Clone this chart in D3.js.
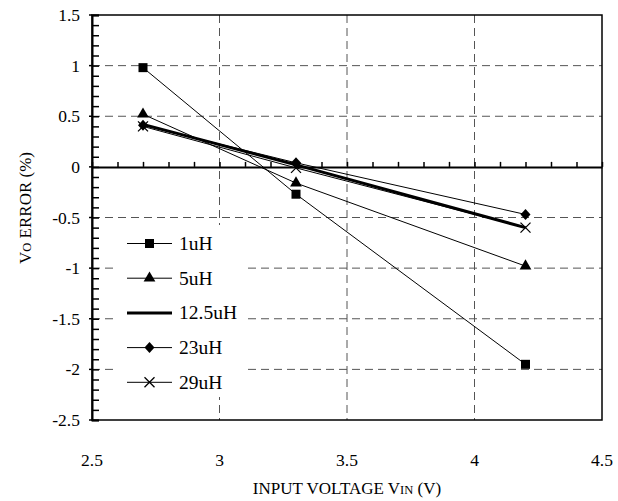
<!DOCTYPE html>
<html>
<head>
<meta charset="utf-8">
<script src="https://cdn.jsdelivr.net/npm/d3@7"></script>
<style>
  body { margin: 0; background: #fff; }
  text { font-family: "Liberation Serif", "Times New Roman", serif; fill: #000; }
</style>
</head>
<body>
<script>
// Vo error vs input voltage, one series per inductor value
var width = 618;
var height = 501;

var margin = { top: 15, left: 92, right: 16, bottom: 81 };

// data
var vin = [2.7, 3.3, 4.2];
var labels = ["1uH", "5uH", "12.5uH", "23uH", "29uH"];
var err1 = [0.98, -0.27, -1.95];
var err5 = [0.52, -0.16, -0.98];
var err12 = [0.42, 0.02, -0.60];
var err23 = [0.41, 0.04, -0.47];
var err29 = [0.40, -0.01, -0.60];
var markers = ["square", "triangle", "none", "diamond", "cross"];
var xTicks = [2.5, 3, 3.5, 4, 4.5];
var yTicks = [1.5, 1, 0.5, 0, -0.5, -1, -1.5, -2, -2.5];

var series = [err1, err5, err12, err23, err29].map(function(vals, i) {
  return { name: labels[i], marker: markers[i], pts: vals.map(function(v, j) { return { x: vin[j], y: v }; }) };
});

var svg = d3.select("body").append("svg")
  .attr("width", width)
  .attr("height", height);

var x = d3.scaleLinear().domain([2.5, 4.5]).range([margin.left, width - margin.right]);
var y = d3.scaleLinear().domain([-2.5, 1.5]).range([height - margin.bottom, margin.top]);

// dashed grid
svg.append("g").selectAll("line")
  .data([3, 3.5, 4]).enter().append("line")
  .attr("x1", function(d) { return x(d); }).attr("x2", function(d) { return x(d); })
  .attr("y1", y(1.5)).attr("y2", y(-2.5))
  .attr("stroke", "#555").attr("stroke-dasharray", "8,5");
svg.append("g").selectAll("line")
  .data([1, 0.5, -0.5, -1, -1.5, -2]).enter().append("line")
  .attr("x1", x(2.5)).attr("x2", x(4.5))
  .attr("y1", function(d) { return y(d); }).attr("y2", function(d) { return y(d); })
  .attr("stroke", "#555").attr("stroke-dasharray", "8,5");

// frame
svg.append("rect")
  .attr("x", x(2.5)).attr("y", y(1.5))
  .attr("width", x(4.5) - x(2.5)).attr("height", y(-2.5) - y(1.5))
  .attr("fill", "none").attr("stroke", "#000").attr("stroke-width", 1.5);

// y axis with minor ticks pointing inwards
var yAxis = svg.append("g")
  .attr("transform", "translate(" + x(2.5) + ",0)")
  .call(d3.axisRight(y).tickValues(d3.range(-25, 16).map(function(d) { return d / 10; }))
    .tickSize(7).tickFormat(""));
yAxis.select(".domain").attr("stroke-width", 2);
yAxis.selectAll(".tick line").attr("stroke-width", 1.5);

svg.append("g").selectAll("line")
  .data(yTicks).enter().append("line")
  .attr("x1", x(2.5) - 3).attr("x2", x(2.5))
  .attr("y1", function(d) { return y(d); }).attr("y2", function(d) { return y(d); })
  .attr("stroke", "#000").attr("stroke-width", 1.5);

svg.append("g").selectAll("text")
  .data(yTicks).enter().append("text")
  .attr("x", x(2.5) - 12).attr("y", function(d) { return y(d) + 6; })
  .attr("text-anchor", "end").attr("font-size", 17.5)
  .text(function(d) { return d; });

// zero line with ticks pointing up
var xAxis = svg.append("g")
  .attr("transform", "translate(0," + y(0) + ")")
  .call(d3.axisTop(x).tickValues(d3.range(25, 46).map(function(d) { return d / 10; }))
    .tickSize(5).tickSizeOuter(0).tickFormat(""));
xAxis.select(".domain").attr("stroke-width", 2);
xAxis.selectAll(".tick line").attr("stroke-width", 1.5);

svg.append("g").selectAll("text")
  .data(xTicks).enter().append("text")
  .attr("x", function(d) { return x(d); }).attr("y", y(-2.5) + 46)
  .attr("text-anchor", "middle").attr("font-size", 17.5)
  .text(function(d) { return d; });

// axis titles
var xt = svg.append("text")
  .attr("x", (x(2.5) + x(4.5)) / 2).attr("y", 494)
  .attr("text-anchor", "middle").attr("font-size", 17);
xt.append("tspan").text("INPUT VOLTAGE V");
xt.append("tspan").attr("font-size", 12.5).text("IN");
xt.append("tspan").text(" (V)");

var yt = svg.append("text")
  .attr("transform", "translate(31," + 208 + ") rotate(-90)")
  .attr("text-anchor", "middle").attr("font-size", 17);
yt.append("tspan").text("V");
yt.append("tspan").attr("font-size", 12.5).text("O");
yt.append("tspan").text(" ERROR (%)");

// series lines
var line = d3.line().x(function(d) { return x(d.x); }).y(function(d) { return y(d.y); });

svg.append("g").selectAll("path")
  .data(series).enter().append("path")
  .attr("d", function(d) { return line(d.pts); })
  .attr("fill", "none").attr("stroke", "#000")
  .attr("stroke-width", function(d) { return d.marker === "none" ? 3 : 1; });

function drawMarker(g, type) {
  if (type === "square") {
    g.append("rect").attr("x", -4.5).attr("y", -4.5).attr("width", 9).attr("height", 9).attr("fill", "#000");
  } else if (type === "triangle") {
    g.append("path").attr("d", d3.symbol().type(d3.symbolTriangle).size(60)()).attr("fill", "#000");
  } else if (type === "diamond") {
    g.append("path").attr("d", "M0,-5.5L5,0L0,5.5L-5,0Z").attr("fill", "#000");
  } else if (type === "cross") {
    g.append("path").attr("d", "M-5,-5L5,5M-5,5L5,-5").attr("stroke", "#000").attr("stroke-width", 1.3);
  }
}

series.forEach(function(s) {
  s.pts.forEach(function(p) {
    var g = svg.append("g").attr("transform", "translate(" + x(p.x) + "," + y(p.y) + ")");
    drawMarker(g, s.marker);
  });
});

// legend
var legend = svg.append("g");
legend.append("rect")
  .attr("x", 113).attr("y", 225).attr("width", 133).attr("height", 172)
  .attr("fill", "#fff");

var items = legend.selectAll("g.item")
  .data(series).enter().append("g")
  .attr("class", "item")
  .attr("transform", function(d, i) { return "translate(0," + (243.5 + i * 34.7) + ")"; });

items.append("line")
  .attr("x1", 127).attr("x2", 172).attr("y1", 0).attr("y2", 0)
  .attr("stroke", "#000")
  .attr("stroke-width", function(d) { return d.marker === "none" ? 3 : 1; });

items.each(function(d) {
  var g = d3.select(this).append("g").attr("transform", "translate(149.5,0)");
  drawMarker(g, d.marker);
});

items.append("text")
  .attr("x", 179).attr("y", 6.5)
  .attr("font-size", 19.5)
  .text(function(d) { return d.name; });
</script>
</body>
</html>
